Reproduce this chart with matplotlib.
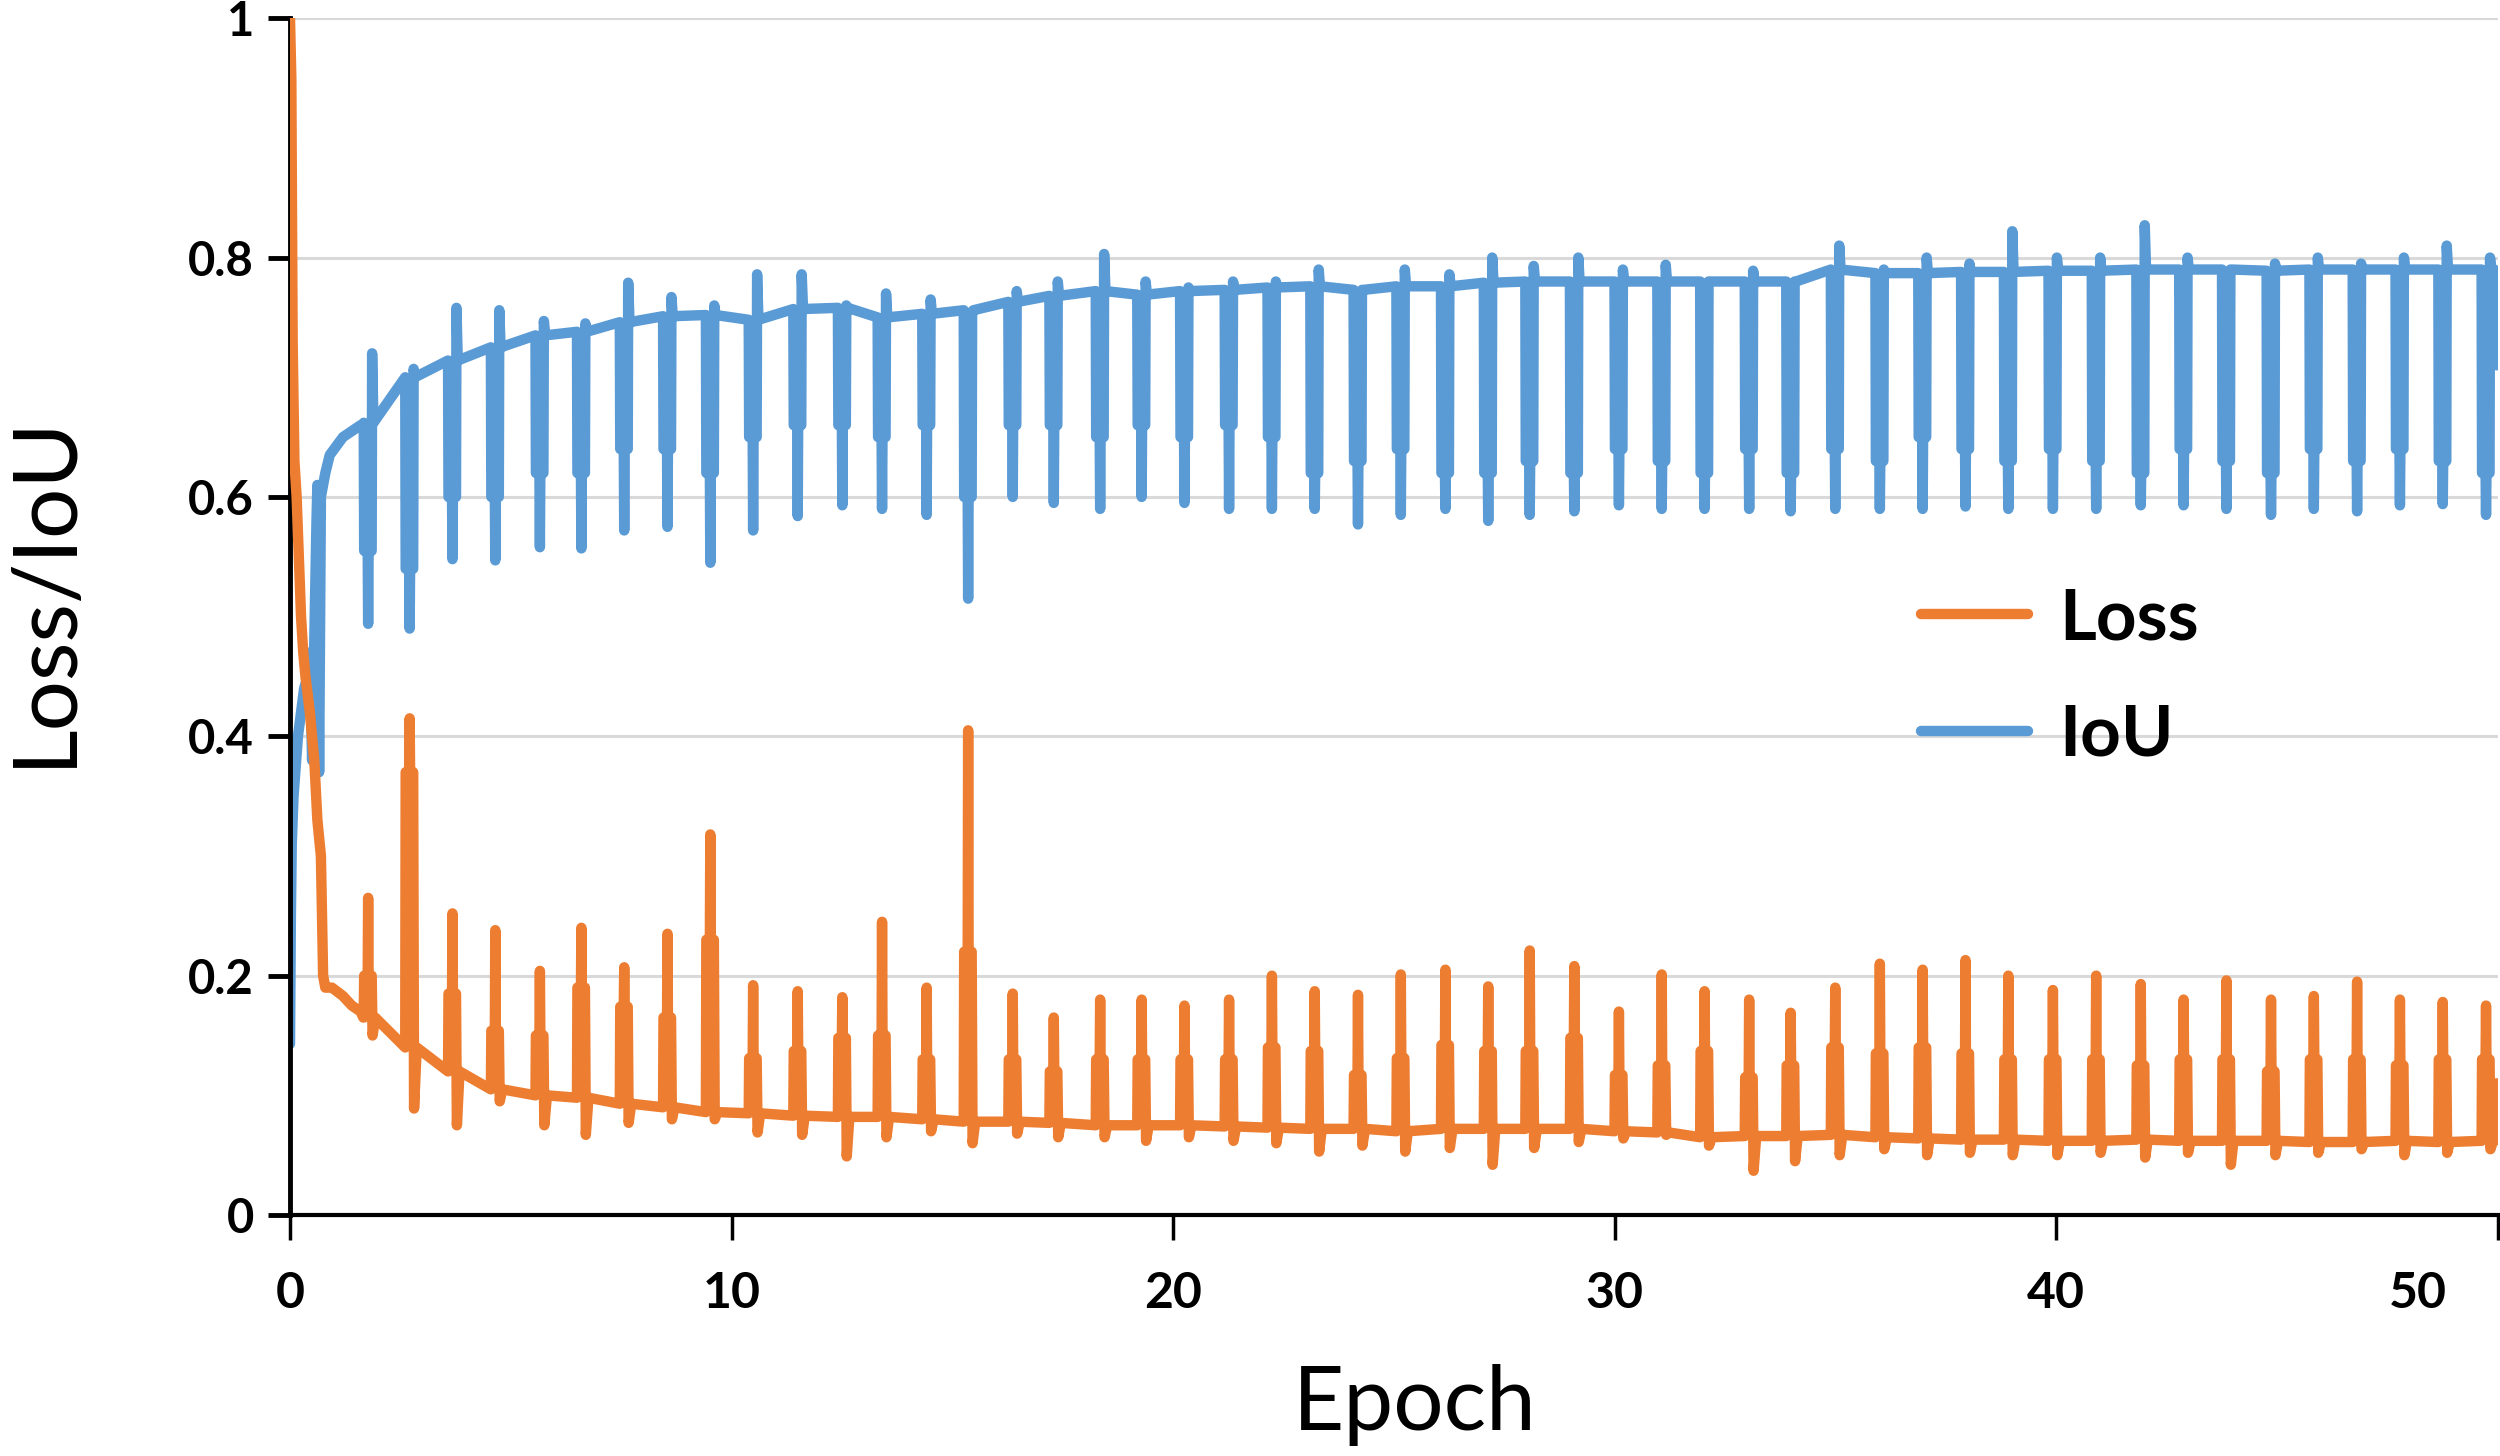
import numpy as np
import matplotlib
matplotlib.use('Agg')
import matplotlib.pyplot as plt
from matplotlib.lines import Line2D
import matplotlib.transforms as mtransforms

plt.rcParams['font.family'] = ['Lato', 'DejaVu Sans']

# first epoch (before the periodic pattern starts)
loss_start_x = [0.0, 0.03, 0.06, 0.10, 0.15, 0.20, 0.25, 0.30, 0.35, 0.45, 0.55, 0.62, 0.70, 0.75, 0.80, 0.95, 1.20, 1.40, 1.60, 1.66]
loss_start_y = [1.0, 0.95, 0.73, 0.63, 0.60, 0.55, 0.50, 0.47, 0.45, 0.42, 0.38, 0.33, 0.30, 0.20, 0.19, 0.19, 0.183, 0.175, 0.17, 0.165]
iou_start_x = [0.0, 0.02, 0.04, 0.08, 0.12, 0.18, 0.25, 0.32, 0.40, 0.45, 0.50, 0.55, 0.60, 0.62, 0.66, 0.70, 0.80, 0.90, 1.00, 1.20, 1.40, 1.60, 1.66]
iou_start_y = [0.143, 0.25, 0.31, 0.35, 0.37, 0.40, 0.42, 0.44, 0.45, 0.47, 0.38, 0.48, 0.58, 0.61, 0.37, 0.60, 0.62, 0.635, 0.64, 0.65, 0.655, 0.66, 0.66]

# one spike per epoch boundary
spike_x = [1.80, 2.74, 3.71, 4.68, 5.69, 6.63, 7.60, 8.58, 9.55, 10.52,
           11.53, 12.54, 13.44, 14.45, 15.39, 16.40, 17.33, 18.38, 19.32, 20.29,
           21.30, 22.27, 23.24, 24.22, 25.19, 26.20, 27.17, 28.11, 29.12, 30.13,
           31.10, 32.07, 33.08, 34.02, 35.03, 36.04, 37.01, 37.98, 38.95, 39.96,
           40.94, 41.95, 42.92, 43.89, 44.90, 45.87, 46.85, 47.82, 48.79, 49.77]

loss_base = [0.165, 0.14, 0.12, 0.105, 0.10, 0.098, 0.093, 0.09, 0.086, 0.085,
             0.083, 0.082, 0.082, 0.08, 0.078, 0.078, 0.077, 0.075, 0.075, 0.075,
             0.074, 0.073, 0.072, 0.072, 0.07, 0.072, 0.072, 0.072, 0.072, 0.07,
             0.069, 0.065, 0.066, 0.066, 0.067, 0.065, 0.064, 0.063, 0.063, 0.062,
             0.062, 0.063, 0.062, 0.062, 0.062, 0.061, 0.061, 0.062, 0.061, 0.062]
loss_peak = [0.265, 0.415, 0.252, 0.238, 0.204, 0.24, 0.207, 0.235, 0.318, 0.192,
             0.187, 0.182, 0.245, 0.19, 0.405, 0.185, 0.165, 0.18, 0.18, 0.175,
             0.18, 0.20, 0.187, 0.184, 0.201, 0.205, 0.191, 0.221, 0.208, 0.17,
             0.201, 0.187, 0.18, 0.169, 0.19, 0.21, 0.205, 0.213, 0.20, 0.188,
             0.20, 0.193, 0.18, 0.196, 0.18, 0.183, 0.195, 0.18, 0.178, 0.175]
loss_mid = [0.20, 0.37, 0.185, 0.154, 0.15, 0.19, 0.174, 0.165, 0.23, 0.131,
            0.137, 0.148, 0.15, 0.13, 0.22, 0.13, 0.12, 0.13, 0.13, 0.13,
            0.13, 0.14, 0.137, 0.117, 0.131, 0.142, 0.137, 0.137, 0.148, 0.117,
            0.125, 0.137, 0.115, 0.125, 0.14, 0.135, 0.14, 0.135, 0.13, 0.13,
            0.13, 0.125, 0.13, 0.13, 0.12, 0.13, 0.13, 0.125, 0.13, 0.13]
loss_dip = [0.15, 0.089, 0.075, 0.095, 0.075, 0.067, 0.077, 0.08, 0.08, 0.069,
            0.067, 0.049, 0.065, 0.07, 0.06, 0.068, 0.065, 0.065, 0.062, 0.065,
            0.062, 0.06, 0.053, 0.058, 0.053, 0.056, 0.042, 0.056, 0.061, 0.064,
            0.067, 0.058, 0.037, 0.045, 0.05, 0.055, 0.05, 0.052, 0.05, 0.05,
            0.052, 0.048, 0.052, 0.042, 0.05, 0.052, 0.055, 0.05, 0.052, 0.055]

iou_base = [0.662, 0.70, 0.714, 0.725, 0.735, 0.738, 0.746, 0.751, 0.752, 0.748,
            0.757, 0.758, 0.75, 0.753, 0.756, 0.763, 0.768, 0.772, 0.769, 0.772,
            0.773, 0.775, 0.776, 0.773, 0.776, 0.776, 0.779, 0.78, 0.78, 0.78,
            0.78, 0.78, 0.78, 0.78, 0.79, 0.787, 0.787, 0.788, 0.788, 0.789,
            0.789, 0.79, 0.79, 0.79, 0.789, 0.79, 0.79, 0.79, 0.79, 0.79]
iou_high = [0.72, 0.707, 0.758, 0.756, 0.747, 0.745, 0.779, 0.767, 0.76, 0.786,
            0.786, 0.76, 0.77, 0.765, 0.755, 0.772, 0.78, 0.803, 0.78, 0.775,
            0.78, 0.78, 0.79, 0.773, 0.79, 0.786, 0.80, 0.793, 0.80, 0.79,
            0.794, 0.78, 0.789, 0.78, 0.81, 0.79, 0.80, 0.795, 0.822, 0.80,
            0.80, 0.827, 0.80, 0.79, 0.795, 0.80, 0.795, 0.80, 0.81, 0.80]
iou_mid = [0.555, 0.54, 0.60, 0.60, 0.62, 0.62, 0.64, 0.64, 0.62, 0.65,
           0.66, 0.66, 0.65, 0.66, 0.60, 0.66, 0.66, 0.65, 0.66, 0.65,
           0.66, 0.65, 0.62, 0.63, 0.64, 0.62, 0.62, 0.63, 0.62, 0.64,
           0.63, 0.62, 0.64, 0.62, 0.64, 0.63, 0.65, 0.64, 0.63, 0.64,
           0.63, 0.62, 0.64, 0.63, 0.62, 0.64, 0.63, 0.64, 0.63, 0.62]
iou_low = [0.494, 0.49, 0.548, 0.547, 0.558, 0.557, 0.572, 0.575, 0.545, 0.572,
           0.584, 0.593, 0.59, 0.585, 0.515, 0.60, 0.595, 0.59, 0.60, 0.595,
           0.59, 0.59, 0.59, 0.577, 0.585, 0.59, 0.58, 0.585, 0.588, 0.593,
           0.59, 0.59, 0.59, 0.588, 0.59, 0.59, 0.59, 0.592, 0.59, 0.59,
           0.59, 0.593, 0.593, 0.59, 0.585, 0.59, 0.588, 0.593, 0.594, 0.585]

# last few iterations at the right edge
loss_end_x = [49.93, 49.98]
loss_end_y = [0.062, 0.11]
iou_end_x = [49.93, 49.98]
iou_end_y = [0.79, 0.71]


def loss_path():
    xs, ys = list(loss_start_x), list(loss_start_y)
    for x, b, p, m, d in zip(spike_x, loss_base, loss_peak, loss_mid, loss_dip):
        xs += [x - 0.13, x - 0.12, x - 0.04, x - 0.03, x - 0.02, x + 0.05, x + 0.07, x + 0.13]
        ys += [b, m, m, p, m, m, d, b]
    return xs + loss_end_x, ys + loss_end_y


def iou_path():
    xs, ys = list(iou_start_x), list(iou_start_y)
    for x, b, h, m, lo in zip(spike_x, iou_base, iou_high, iou_mid, iou_low):
        xs += [x - 0.13, x - 0.12, x - 0.04, x - 0.03, x - 0.02, x + 0.05, x + 0.06, x + 0.09]
        ys += [b, m, m, lo, m, m, h, b]
    return xs + iou_end_x, ys + iou_end_y


orange = '#ED7D31'
blue = '#5B9BD5'

fig = plt.figure(figsize=(25, 14.56), dpi=100)
ax = fig.add_axes([0.116, 0.1655, 0.883, 0.822])

lx, ly = loss_path()
ix, iy = iou_path()
ax.plot(lx, ly, color=orange, lw=7.5, solid_joinstyle='round', solid_capstyle='round', zorder=3)
ax.plot(ix, iy, color=blue, lw=7.5, solid_joinstyle='round', solid_capstyle='round', zorder=2)

ax.set_xlim(0, 50)
ax.set_ylim(0, 1)
ax.set_yticks([0, 0.2, 0.4, 0.6, 0.8, 1.0])
ax.set_yticklabels(['0', '0.2', '0.4', '0.6', '0.8', '1'])
ax.set_xticks([0, 10, 20, 30, 40, 50])
ax.set_xticklabels(['0', '10', '20', '30', '40', '50'])
ax.yaxis.grid(True, color='#D9D9D9', lw=2.2, zorder=0)
ax.set_axisbelow(True)

for s in ['top', 'right']:
    ax.spines[s].set_visible(False)
ax.spines['left'].set_linewidth(3.5)
ax.spines['bottom'].set_linewidth(3.0)
ax.tick_params(axis='y', length=16, width=3.5, direction='out', pad=10, labelsize=34)
ax.tick_params(axis='x', length=18, width=2.5, direction='out', pad=22, labelsize=36)
for lab in ax.get_xticklabels() + ax.get_yticklabels():
    lab.set_fontweight('bold')
# last x label is pulled inside the figure, as in the original
last = ax.get_xticklabels()[-1]
last.set_transform(last.get_transform() + mtransforms.ScaledTranslation(-0.8, 0, fig.dpi_scale_trans))

fig.text(0.018, 0.595, 'Loss/IoU', rotation=90, fontsize=64, ha='center', va='center')
fig.text(0.566, 0.035, 'Epoch', fontsize=64, ha='center', va='center')

handles = [Line2D([], [], color=orange, lw=7.5, solid_capstyle='round'),
           Line2D([], [], color=blue, lw=7.5, solid_capstyle='round')]
leg = ax.legend(handles, ['Loss', 'IoU'], loc='center left', bbox_to_anchor=(0.7685, 0.535),
                bbox_transform=fig.transFigure, frameon=False, prop={'size': 51, 'weight': 'bold'},
                handlelength=1.5, handletextpad=0.45, labelspacing=0.73, borderpad=0,
                borderaxespad=0)

fig.savefig('out.png', dpi=100)
